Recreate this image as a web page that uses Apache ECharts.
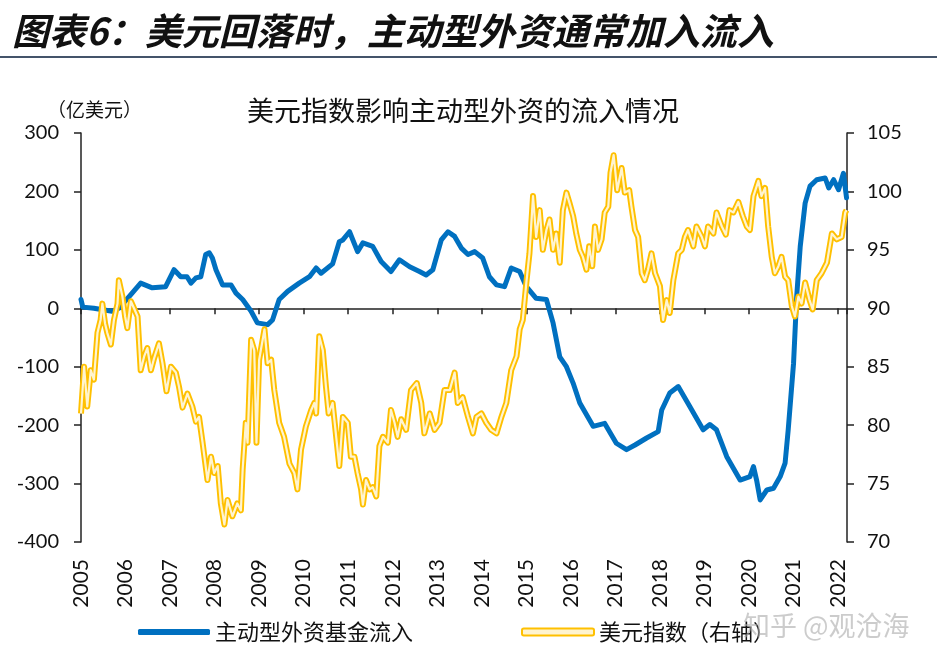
<!DOCTYPE html>
<html>
<head>
<meta charset="utf-8">
<script src="https://cdn.jsdelivr.net/npm/echarts@6/dist/echarts.min.js"></script>
<style>
html,body{margin:0;padding:0;background:#fff;}
#chart{width:937px;height:666px;}
</style>
</head>
<body>
<div id="chart"></div>
<script>
// ---- Data ----
const yearTicks = [2005,2006,2007,2008,2009,2010,2011,2012,2013,2014,2015,2016,2017,2018,2019,2020,2021,2022];

// 主动型外资基金流入 (亿美元), dates as decimal years
const flowDates = [2005.00,2005.04,2005.29,2005.52,2005.70,2005.85,2006.08,2006.34,2006.60,2006.90,
  2007.09,2007.24,2007.38,2007.47,2007.58,2007.69,2007.80,2007.88,2007.95,2008.03,
  2008.18,2008.37,2008.48,2008.63,2008.82,2008.96,2009.19,2009.30,2009.45,2009.64,
  2009.90,2010.13,2010.28,2010.39,2010.65,2010.80,2010.88,2011.03,2011.21,2011.33,
  2011.55,2011.74,2011.96,2012.15,2012.38,2012.60,2012.75,2012.90,2013.09,2013.24,
  2013.39,2013.54,2013.69,2013.84,2014.02,2014.17,2014.33,2014.51,2014.66,2014.85,
  2015.00,2015.22,2015.45,2015.60,2015.75,2015.90,2016.05,2016.20,2016.50,2016.76,
  2017.02,2017.25,2017.44,2017.70,2017.96,2018.04,2018.22,2018.41,2018.67,2018.97,
  2019.12,2019.27,2019.50,2019.80,2020.02,2020.10,2020.17,2020.25,2020.40,2020.55,
  2020.70,2020.81,2020.88,2021.00,2021.07,2021.15,2021.26,2021.37,2021.52,2021.71,
  2021.79,2021.90,2022.01,2022.12,2022.19];
const flowValues = [15,2,0,-3,-5,0,20,43,35,37,
  66,54,54,43,52,54,92,95,86,66,
  40,40,26,15,-5,-25,-28,-20,15,29,
  43,54,69,60,76,114,117,131,97,112,
  106,80,63,83,71,63,57,66,117,131,
  123,103,92,97,86,54,40,37,69,63,
  37,17,15,-25,-83,-100,-128,-162,-202,-197,
  -231,-242,-234,-222,-211,-174,-145,-134,-168,-208,
  -199,-208,-254,-294,-288,-271,-294,-328,-311,-308,
  -288,-265,-208,-94,20,106,180,209,220,223,
  206,220,203,231,189];

// 美元指数 (右轴)
const usdDates = [2005.00,2005.07,2005.14,2005.22,2005.29,2005.37,2005.44,2005.48,2005.54,2005.59,
  2005.67,2005.74,2005.82,2005.85,2005.93,2005.99,2006.04,2006.12,2006.19,2006.27,
  2006.34,2006.42,2006.49,2006.57,2006.64,2006.75,2006.83,2006.92,2007.02,2007.13,
  2007.20,2007.28,2007.39,2007.50,2007.58,2007.65,2007.73,2007.84,2007.92,2007.99,
  2008.07,2008.14,2008.22,2008.29,2008.40,2008.51,2008.59,2008.63,2008.70,2008.74,
  2008.82,2008.89,2008.94,2009.00,2009.12,2009.19,2009.27,2009.34,2009.45,2009.56,
  2009.68,2009.79,2009.86,2009.94,2010.05,2010.17,2010.24,2010.28,2010.35,2010.43,
  2010.50,2010.56,2010.65,2010.73,2010.80,2010.88,2010.99,2011.06,2011.14,2011.21,
  2011.29,2011.33,2011.40,2011.48,2011.55,2011.63,2011.70,2011.78,2011.89,2011.96,
  2012.04,2012.11,2012.19,2012.30,2012.41,2012.54,2012.64,2012.71,2012.83,2012.94,
  2013.05,2013.16,2013.28,2013.39,2013.46,2013.57,2013.69,2013.80,2013.88,2013.99,
  2014.10,2014.21,2014.33,2014.44,2014.55,2014.66,2014.78,2014.85,2014.92,2015.00,
  2015.07,2015.15,2015.22,2015.30,2015.37,2015.45,2015.52,2015.60,2015.67,2015.75,
  2015.82,2015.90,2015.97,2016.05,2016.12,2016.20,2016.27,2016.35,2016.41,2016.48,
  2016.54,2016.61,2016.69,2016.76,2016.84,2016.89,2016.96,2017.04,2017.14,2017.21,
  2017.31,2017.36,2017.44,2017.51,2017.59,2017.66,2017.73,2017.81,2017.89,2018.00,
  2018.07,2018.15,2018.22,2018.30,2018.41,2018.49,2018.56,2018.63,2018.75,2018.82,
  2018.94,2019.01,2019.08,2019.20,2019.27,2019.39,2019.48,2019.56,2019.65,2019.76,
  2019.86,2019.95,2020.02,2020.10,2020.21,2020.28,2020.36,2020.43,2020.51,2020.58,
  2020.66,2020.73,2020.81,2020.88,2020.96,2021.03,2021.11,2021.18,2021.26,2021.36,
  2021.43,2021.52,2021.63,2021.75,2021.86,2021.97,2022.08,2022.16,2022.19];
const usdValues = [81.0,85.0,81.6,84.7,83.9,87.9,89.0,90.4,88.7,87.9,
  86.9,89.0,90.4,92.4,91.0,89.3,88.3,90.6,90.0,89.3,
  84.7,85.9,86.6,84.7,85.7,87.0,85.3,82.9,85.0,84.5,
  83.3,81.5,82.7,81.6,80.3,80.7,78.5,75.3,77.3,75.9,
  76.5,73.3,71.5,73.6,72.2,73.3,72.7,76.2,80.2,78.5,
  87.3,86.4,78.5,85.6,88.2,85.3,85.6,83.0,80.2,79.0,
  76.7,75.9,74.5,77.9,79.9,81.3,81.9,81.0,87.6,86.4,
  83.3,81.0,81.9,79.0,76.5,80.7,80.2,77.3,77.3,75.9,
  74.5,73.2,75.3,74.5,74.7,73.9,78.2,79.0,78.5,81.3,
  80.2,79.0,80.5,79.6,83.0,83.6,81.9,79.3,81.0,79.6,
  80.2,83.0,83.0,84.5,81.9,82.4,80.7,79.3,80.7,81.0,
  80.2,79.6,79.3,80.7,81.9,84.7,85.9,88.2,89.0,92.2,
  94.7,99.6,96.1,98.4,95.0,96.7,97.6,95.0,96.4,93.9,
  98.4,99.9,99.0,97.9,96.4,95.0,94.4,93.3,95.3,93.6,
  97.0,95.0,95.9,98.2,98.7,101.6,103.1,100.1,102.0,99.9,
  100.1,98.7,96.7,96.1,93.0,92.4,93.3,94.7,93.0,91.9,
  89.0,90.7,89.6,92.4,94.7,95.0,96.1,96.7,95.3,97.0,
  96.1,95.3,97.0,96.4,98.2,97.0,96.3,98.4,98.2,99.1,
  97.9,97.0,96.7,99.6,100.9,99.6,100.3,97.0,94.4,93.0,
  93.6,94.4,92.7,92.4,90.2,89.3,91.0,90.4,92.2,90.7,
  89.9,92.4,93.0,93.9,96.4,95.9,96.1,98.2,98.4];

const flowName = '主动型外资基金流入';
const usdName = '美元指数（右轴）';

// ---- Chart ----
const pair = (xs, ys) => xs.map((x, i) => [x, ys[i]]);
const numFont = 'Lato, "Liberation Sans", sans-serif';
const cjkFont = '"Noto Sans CJK SC", sans-serif';

const chart = echarts.init(document.getElementById('chart'), null, {renderer: 'canvas'});
chart.setOption({
  animation: false,
  backgroundColor: '#ffffff',
  title: [
    {text: '图表6：美元回落时，主动型外资通常加入流入', left: 7, top: 7,
     textStyle: {fontFamily: cjkFont, fontSize: 37, fontWeight: 'bold', fontStyle: 'italic', color: '#111'}},
    {text: '美元指数影响主动型外资的流入情况', left: 242, top: 92,
     textStyle: {fontFamily: cjkFont, fontSize: 27, fontWeight: 'normal', color: '#111'}},
    {text: '（亿美元）', left: 42, top: 95,
     textStyle: {fontFamily: cjkFont, fontSize: 19, fontWeight: 'normal', color: '#111'}}
  ],
  graphic: [
    {type: 'line', shape: {x1: 0, y1: 57, x2: 937, y2: 57}, style: {stroke: '#44546A', lineWidth: 2}},
    {type: 'text', left: 743, top: 612, z: 100,
     style: {text: '知乎 @观沧海', fontFamily: cjkFont, fontSize: 27, fill: 'rgba(170,170,170,0.6)'}}
  ],
  legend: [
    {left: 138, top: 621, padding: 0, itemWidth: 72, itemHeight: 6,
     data: [{name: flowName, icon: 'roundRect', itemStyle: {color: '#0070C0', borderWidth: 0}}],
     textStyle: {fontFamily: cjkFont, fontSize: 22, color: '#111'}},
    {left: 521, top: 621, padding: 0, itemWidth: 72, itemHeight: 7,
     data: [{name: usdName, icon: 'roundRect', itemStyle: {color: '#FFF4D0', borderColor: '#FFC000', borderWidth: 2}}],
     textStyle: {fontFamily: cjkFont, fontSize: 22, color: '#111'}}
  ],
  grid: {left: 81, right: 90, top: 133, bottom: 124, containLabel: false},
  xAxis: [
    {type: 'value', min: 2005, max: 2022.2, interval: 1, position: 'bottom',
     axisLine: {show: true, onZero: true, onZeroAxisIndex: 0, lineStyle: {color: '#222', width: 1.5}},
     axisTick: {show: true, length: 6, lineStyle: {color: '#222', width: 1.5}},
     axisLabel: {show: false}, splitLine: {show: false}},
    {type: 'value', min: 2005, max: 2022.2, interval: 1, position: 'bottom',
     axisLine: {show: false, onZero: false}, axisTick: {show: false}, splitLine: {show: false},
     axisLabel: {show: true, rotate: 90, margin: 17, fontFamily: numFont, fontSize: 21, color: '#111',
       showMaxLabel: false,
       formatter: v => yearTicks.indexOf(Math.round(v)) >= 0 && Math.abs(v - Math.round(v)) < 1e-6 ? String(Math.round(v)) : ''}}
  ],
  yAxis: [
    {type: 'value', min: -400, max: 300, interval: 100, position: 'left',
     axisLine: {show: true, lineStyle: {color: '#222', width: 1.5}},
     axisTick: {show: true, length: 7, lineStyle: {color: '#222', width: 1.5}},
     axisLabel: {margin: 22, fontFamily: numFont, fontSize: 20, color: '#111'},
     splitLine: {show: false}},
    {type: 'value', min: 70, max: 105, interval: 5, position: 'right',
     axisLine: {show: true, lineStyle: {color: '#222', width: 1.5}},
     axisTick: {show: true, length: 7, lineStyle: {color: '#222', width: 1.5}},
     axisLabel: {margin: 20, fontFamily: numFont, fontSize: 20, color: '#111'},
     splitLine: {show: false}}
  ],
  series: [
    {name: flowName, type: 'line', xAxisIndex: 0, yAxisIndex: 0, data: pair(flowDates, flowValues),
     showSymbol: false, symbol: 'none', z: 2,
     lineStyle: {color: '#0070C0', width: 5, join: 'round', cap: 'round'},
     itemStyle: {color: '#0070C0'}},
    {name: usdName, type: 'line', xAxisIndex: 0, yAxisIndex: 1, data: pair(usdDates, usdValues),
     showSymbol: false, symbol: 'none', z: 3,
     lineStyle: {color: '#FFC000', width: 6, join: 'round'},
     itemStyle: {color: '#FFC000'}},
    {name: 'usd-inner', type: 'line', xAxisIndex: 0, yAxisIndex: 1, data: pair(usdDates, usdValues),
     showSymbol: false, symbol: 'none', z: 4, silent: true,
     lineStyle: {color: '#FFF4D0', width: 2.2, join: 'round'},
     itemStyle: {color: '#FFF4D0'}}
  ]
});
</script>
</body>
</html>
